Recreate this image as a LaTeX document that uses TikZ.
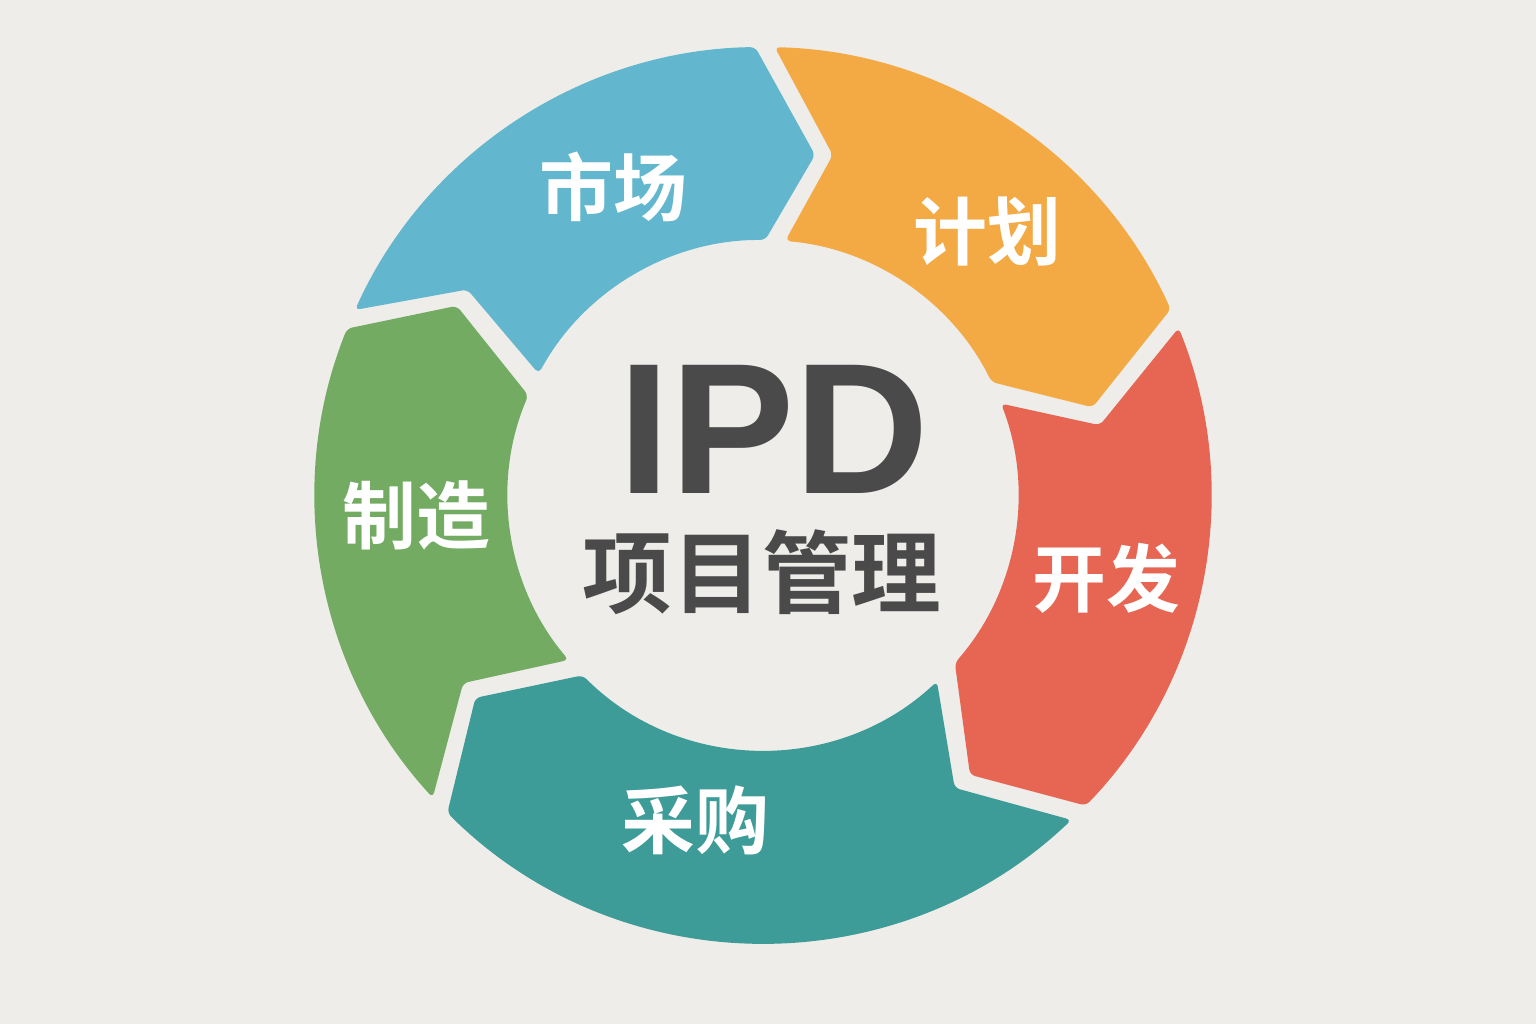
\documentclass[tikz,border=0pt]{standalone}
\usepackage{fontspec}
\setmainfont{Liberation Sans}
\newfontfamily\cjk[BoldFont={Noto Sans CJK SC Bold}]{Noto Sans CJK SC}
\definecolor{pagebg}{HTML}{EEEDE9}
\definecolor{segblue}{HTML}{62B7CE}
\definecolor{segorange}{HTML}{F3AA45}
\definecolor{segred}{HTML}{E66553}
\definecolor{segteal}{HTML}{3D9B98}
\definecolor{seggreen}{HTML}{72AB61}
\definecolor{ink}{HTML}{4A4A4A}
\begin{document}
\begin{tikzpicture}[x=0.01cm,y=0.01cm,
  phase/.style={text=white,font=\cjk\bfseries\fontsize{21}{21}\selectfont,inner sep=0}]
\fill[pagebg](0,0)rectangle(1536,1024);
\begin{scope}[shift={(763,529)}]
\foreach \c/\sa/\ea/\pa/\pr/\ei/\si/\na/\nr in {
  segblue/155.6/91.0/81.3/344/89.5/151.6/145.2/360,
  segorange/88.5/24.5/14.9/341/26.3/85.0/78.4/347,
  segred/21.9/-43.9/-53.5/348/-41.2/21.0/11.7/344,
  segteal/-46.5/-134.8/-144.8/352/-135.0/-47.0/-56.8/350,
  seggreen/222.5/158.2/148.3/360/157.0/220.3/212.1/354}
  \fill[\c,rounded corners=1.5pt](\sa:448)arc[start angle=\sa,end angle=\ea,radius=448]
    --(\pa:\pr)--(\ei:255)arc[start angle=\ei,end angle=\si,radius=255]--(\na:\nr)--cycle;
\end{scope}
\node[phase](market)at(613,837){市场};
\node[phase](plan)at(987,792){计划};
\node[phase](dev)at(1106,446){开发};
\node[phase](buy)at(695,204){采购};
\node[phase](make)at(416,509){制造};
\node[text=ink,font=\bfseries\fontsize{53}{53}\selectfont,inner sep=0,anchor=base](ipd)at(774,530){IPD};
\node[text=ink,font=\cjk\bfseries\fontsize{25.5}{25.5}\selectfont,inner sep=0](pm)at(762,452){项目管理};
\end{tikzpicture}
\end{document}
